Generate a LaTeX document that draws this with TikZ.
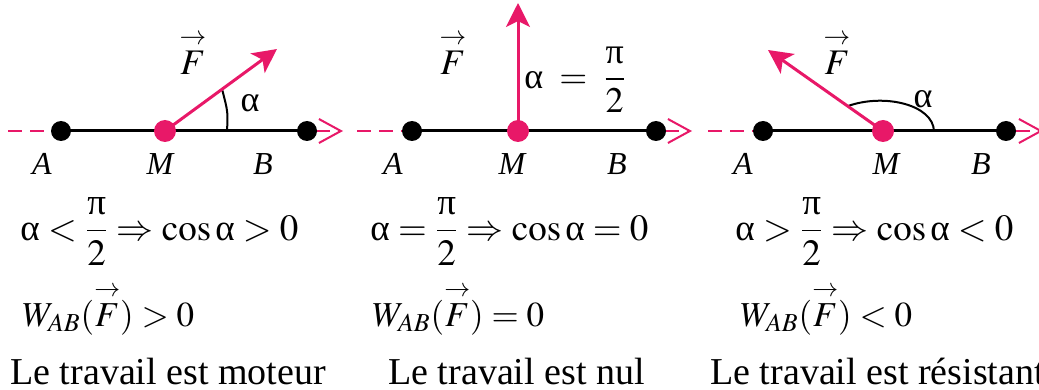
\documentclass[tikz,border=0pt]{standalone}
\usepackage{amsmath}
\usepackage{mathptmx}
\usepackage{fontspec}
\setmainfont{Liberation Serif}
\usetikzlibrary{arrows.meta}
\definecolor{rose}{RGB}{232,24,104}
\newcommand{\ga}{\mbox{α}}
\newcommand{\gpi}{\mbox{π}}
\newcommand{\vF}{\mathord{\overset{\scriptstyle\rightarrow}{F}}}

\begin{document}
\begin{tikzpicture}[
        x=0.5pt, y=-0.5pt,
        axe/.style      = {draw=rose, line width=1pt, dash pattern=on 7pt off 4pt,
                           -{Straight Barb[length=11pt, width=12pt, line width=1pt]}},
        segment/.style  = {draw, line width=1.5pt},
        point/.style    = {circle, fill=black, inner sep=0pt, minimum size=10pt},
        mobile/.style   = {circle, fill=rose, inner sep=0pt, minimum size=11pt},
        force/.style    = {draw=rose, line width=1.5pt,
                           -{Stealth[length=12pt, width=12pt, inset=3pt]}},
        angle/.style    = {draw, line width=1pt},
        lettre/.style   = {anchor=base, inner sep=0pt, font=\fontsize{16}{18}\selectfont\itshape},
        vecteur/.style  = {anchor=base, inner sep=0pt, font=\fontsize{18}{20}\selectfont},
        equation/.style = {anchor=base west, inner sep=0pt, font=\fontsize{18.5}{21}\selectfont},
        travail/.style  = {anchor=base west, inner sep=0pt, font=\fontsize{17.5}{20}\selectfont},
        phrase/.style   = {anchor=base west, inner sep=0pt, font=\fontsize{19}{22}\selectfont}
    ]
        \useasboundingbox (0,0) rectangle (1039,390);

        % points
        \coordinate (g1) at (8,131);    \coordinate (d1) at (343,131);
        \coordinate (g2) at (357,131);  \coordinate (d2) at (692,131);
        \coordinate (g3) at (708,131);  \coordinate (d3) at (1043,131);
        \coordinate (A1) at (61,131);   \coordinate (M1) at (165,131);  \coordinate (B1) at (307,131);
        \coordinate (A2) at (412,131);  \coordinate (M2) at (518,131);  \coordinate (B2) at (656,131);
        \coordinate (A3) at (763,131);  \coordinate (M3) at (883,131);  \coordinate (B3) at (1006,131);
        \coordinate (F1) at (277,49);
        \coordinate (F2) at (518,3);
        \coordinate (F3) at (768,50);

        % axes
        \path [axe]     (g1) -- (d1);
        \path [axe]     (g2) -- (d2);
        \path [axe]     (g3) -- (d3);
        \path [segment] (A1) -- (B1);
        \path [segment] (A2) -- (B2);
        \path [segment] (A3) -- (B3);

        % angles
        \path [angle] (227,131) .. controls (228,112) .. (222,89);
        \path [angle] (848,106) .. controls (885,93) and (933,105) .. (934,131);

        % forces
        \path [force] (M1) -- (F1);
        \path [force] (M2) -- (F2);
        \path [force] (M3) -- (F3);

        \node [point]  (pA1) at (A1) {};
        \node [mobile] (pM1) at (M1) {};
        \node [point]  (pB1) at (B1) {};
        \node [point]  (pA2) at (A2) {};
        \node [mobile] (pM2) at (M2) {};
        \node [point]  (pB2) at (B2) {};
        \node [point]  (pA3) at (A3) {};
        \node [mobile] (pM3) at (M3) {};
        \node [point]  (pB3) at (B3) {};

        % lettres
        \node [lettre] (lA1) at (42,175)  {A};
        \node [lettre] (lM1) at (160,175) {M};
        \node [lettre] (lB1) at (263,175) {B};
        \node [lettre] (lA2) at (393,175) {A};
        \node [lettre] (lM2) at (512,175) {M};
        \node [lettre] (lB2) at (617,175) {B};
        \node [lettre] (lA3) at (743,175) {A};
        \node [lettre] (lM3) at (886,175) {M};
        \node [lettre] (lB3) at (981,175) {B};

        \node [vecteur] (v1) at (193,75) {$\vF$};
        \node [vecteur] (v2) at (453,75) {$\vF$};
        \node [vecteur] (v3) at (837,75) {$\vF$};
        \node [vecteur] (a1) at (250,112) {α};
        \node [vecteur] (a3) at (923,108) {α};
        \node [vecteur, anchor=west] (a2) at (524,80) {$\ga\;=\;\dfrac{\gpi}{2}$};

        % textes
        \node [equation] (eq1) at (20,240)  {$\ga < \dfrac{\gpi}{2} \Rightarrow \cos\ga > 0$};
        \node [equation] (eq2) at (370,240) {$\ga = \dfrac{\gpi}{2} \Rightarrow \cos\ga = 0$};
        \node [equation] (eq3) at (735,240) {$\ga > \dfrac{\gpi}{2} \Rightarrow \cos\ga < 0$};
        \node [travail]  (w1)  at (22,326)  {$W_{AB}(\vF) > 0$};
        \node [travail]  (w2)  at (372,326) {$W_{AB}(\vF) = 0$};
        \node [travail]  (w3)  at (740,326) {$W_{AB}(\vF) < 0$};
        \node [phrase]   (t1)  at (10,384)  {Le travail est moteur};
        \node [phrase]   (t2)  at (388,384) {Le travail est nul};
        \node [phrase]   (t3)  at (710,384) {Le travail est résistant};
    \end{tikzpicture}
\end{document}
